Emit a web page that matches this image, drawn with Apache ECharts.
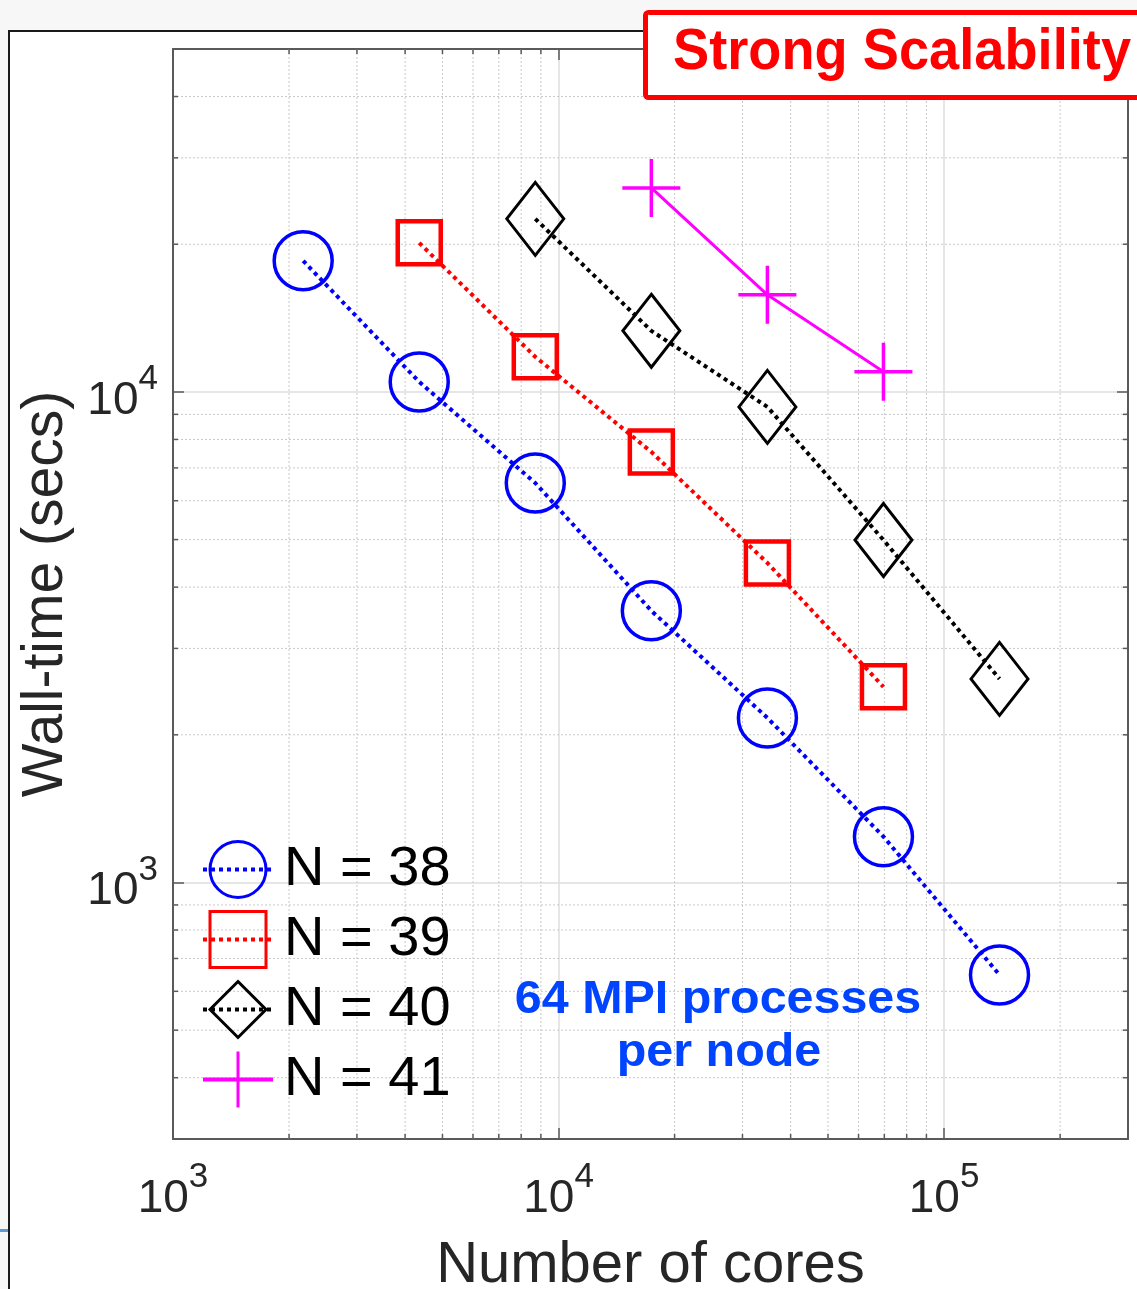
<!DOCTYPE html>
<html><head><meta charset="utf-8">
<script src="https://cdn.jsdelivr.net/npm/echarts@6/dist/echarts.min.js"></script>
<style>html,body{margin:0;padding:0;background:#f7f7f7;} #c{width:1137px;height:1289px;}</style>
</head><body><div id="c"></div>
<script>
// ---------------- data ----------------
const seriesNames = ['N = 38', 'N = 39', 'N = 40', 'N = 41'];
const cores38 = [2176, 4352, 8704, 17408, 34816, 69632, 139264];
const time38  = [18500, 10480, 6520, 3580, 2165, 1240, 648];
const cores39 = [4352, 8704, 17408, 34816, 69632];
const time39  = [20130, 11790, 7545, 4480, 2505];
const cores40 = [8704, 17408, 34816, 69632, 139264];
const time40  = [22530, 13320, 9320, 4990, 2600];
const cores41 = [17408, 34816, 69632];
const time41  = [26050, 15770, 10990];
const xTickExponents = [3, 4, 5];
const yTickExponents = [3, 4];
const xMinorTicks = [2000, 3000, 4000, 5000, 6000, 7000, 8000, 9000,
                     20000, 30000, 40000, 50000, 60000, 70000, 80000, 90000, 200000];
const yMinorTicks = [400, 500, 600, 700, 800, 900,
                     2000, 3000, 4000, 5000, 6000, 7000, 8000, 9000,
                     20000, 30000, 40000];

// ---------------- styles ----------------
const FONT = '"Liberation Sans", Arial, Helvetica, sans-serif';
const axisColor = '#5a5a5a';
const labelColor = '#262626';
const minorGridColor = '#c9c9c9';
const majorGridColor = '#dedede';

function zip(a, b) { return a.map((v, i) => [v, b[i]]); }
function powLabel(exps) {
  return function (v) {
    const l = Math.log10(v);
    const e = Math.round(l);
    if (Math.abs(l - e) > 1e-6 || exps.indexOf(e) < 0) return '';
    return '{b|10}{s|' + e + '}';
  };
}
const rich = {
  b: {fontSize: 46, lineHeight: 46, fontFamily: FONT, color: labelColor, verticalAlign: 'bottom'},
  s: {fontSize: 35, lineHeight: 35, fontFamily: FONT, color: labelColor, verticalAlign: 'bottom', padding: [0, 0, 27, 0]}
};

function minorXRender(params, api) {
  const cs = params.coordSys;
  const px = api.coord([api.value(0), api.value(1)])[0];
  const top = cs.y, bot = cs.y + cs.height;
  return {type: 'group', children: [
    {type: 'line', shape: {x1: px, y1: top, x2: px, y2: bot}, style: {stroke: minorGridColor, lineWidth: 1, lineDash: [2, 2]}},
    {type: 'line', shape: {x1: px, y1: bot, x2: px, y2: bot - 5}, style: {stroke: axisColor, lineWidth: 1.5}},
    {type: 'line', shape: {x1: px, y1: top, x2: px, y2: top + 5}, style: {stroke: axisColor, lineWidth: 1.5}}
  ]};
}
function minorYRender(params, api) {
  const cs = params.coordSys;
  const py = api.coord([api.value(0), api.value(1)])[1];
  const left = cs.x, right = cs.x + cs.width;
  return {type: 'group', children: [
    {type: 'line', shape: {x1: left, y1: py, x2: right, y2: py}, style: {stroke: minorGridColor, lineWidth: 1, lineDash: [2, 2]}},
    {type: 'line', shape: {x1: left, y1: py, x2: left + 5, y2: py}, style: {stroke: axisColor, lineWidth: 1.5}},
    {type: 'line', shape: {x1: right, y1: py, x2: right - 5, y2: py}, style: {stroke: axisColor, lineWidth: 1.5}}
  ]};
}

function mainAxis(kind) {
  const isX = kind === 'x';
  return {
    type: 'log', logBase: 10, gridIndex: 0,
    min: isX ? 1000 : 300, max: isX ? 300000 : 50000,
    position: isX ? 'bottom' : 'left',
    axisLine: {show: true, onZero: false, lineStyle: {color: axisColor, width: 2}},
    axisTick: {show: true, inside: true, length: 11, lineStyle: {color: axisColor, width: 1.5}},
    axisLabel: {show: true, margin: isX ? 37 : 15, padding: isX ? 0 : [18, 0, 0, 0],
                formatter: powLabel(isX ? xTickExponents : yTickExponents), rich: rich, hideOverlap: false},
    splitLine: {show: true, lineStyle: {color: majorGridColor, width: 1.5}},
    minorTick: {show: false}, minorSplitLine: {show: false},
    name: isX ? 'Number of cores' : 'Wall-time (secs)',
    nameLocation: 'middle', nameGap: isX ? 98 : 98,
    nameTextStyle: {fontSize: isX ? 58 : 57, fontFamily: FONT, color: labelColor}
  };
}
function mirrorAxis(kind) {
  const isX = kind === 'x';
  return {
    type: 'log', logBase: 10, gridIndex: 0,
    min: isX ? 1000 : 300, max: isX ? 300000 : 50000,
    position: isX ? 'top' : 'right',
    axisLine: {show: true, onZero: false, lineStyle: {color: axisColor, width: 2}},
    axisTick: {show: true, inside: true, length: 11, lineStyle: {color: axisColor, width: 1.5}},
    axisLabel: {show: false}, splitLine: {show: false}
  };
}

function lineSeries(name, xs, ys, color, symbol, size, bw, lineType) {
  return {
    name: name, type: 'line', xAxisIndex: 0, yAxisIndex: 0,
    data: zip(xs, ys), symbol: symbol, symbolSize: size, showSymbol: true,
    itemStyle: {color: 'rgba(0,0,0,0)', borderColor: color, borderWidth: bw},
    lineStyle: {color: color, width: lineType === 'solid' ? 3 : 4, type: lineType === 'solid' ? 'solid' : [4, 4], cap: 'butt'},
    z: 3, silent: true, clip: false, emphasis: {disabled: true}
  };
}

const chart = echarts.init(document.getElementById('c'), null, {renderer: 'canvas'});
chart.setOption({
  animation: false,
  backgroundColor: '#f7f7f7',
  grid: {left: 173, top: 49, width: 955, height: 1090, containLabel: false, outerBoundsMode: 'none'},
  xAxis: [mainAxis('x'), mirrorAxis('x')],
  yAxis: [mainAxis('y'), mirrorAxis('y')],
  legend: {
    data: seriesNames, orient: 'vertical', left: 196, top: 835,
    itemWidth: 70, itemHeight: 70, itemGap: 11, selectedMode: false,
    itemStyle: {borderWidth: 3},
    lineStyle: {width: 4},
    textStyle: {fontSize: 56, lineHeight: 56, fontFamily: FONT, color: '#000', padding: [0, 0, 0, 6]}
  },
  series: [
    {type: 'custom', name: 'minorX', xAxisIndex: 0, yAxisIndex: 0, z: 1, silent: true, clip: false,
     data: xMinorTicks.map(v => [v, 1000]), encode: {x: 0, y: 1}, renderItem: minorXRender},
    {type: 'custom', name: 'minorY', xAxisIndex: 0, yAxisIndex: 0, z: 1, silent: true, clip: false,
     data: yMinorTicks.map(v => [10000, v]), encode: {x: 0, y: 1}, renderItem: minorYRender},
    lineSeries(seriesNames[0], cores38, time38, '#0000ff', 'circle', 58, 3.5, 'dotted'),
    lineSeries(seriesNames[1], cores39, time39, '#ff0000', 'rect', 43, 4.5, 'dotted'),
    lineSeries(seriesNames[2], cores40, time40, '#000000', 'diamond', [57, 73], 3, 'dotted'),
    lineSeries(seriesNames[3], cores41, time41, '#ff00ff', 'path://M0,-1L0,1M-1,0L1,0', 58, 3.5, 'solid')
  ],
  graphic: [
    {type: 'rect', z: -10, silent: true, shape: {x: 9, y: 31, width: 1200, height: 1300},
     style: {fill: '#ffffff', stroke: '#1a1a1a', lineWidth: 2}},
    {type: 'rect', z: -9, silent: true, shape: {x: 0, y: 1229, width: 8, height: 3}, style: {fill: '#5b9bd5'}},
    {type: 'rect', z: 100, silent: true, shape: {x: 645.5, y: 12.5, width: 600, height: 85, r: 3},
     style: {fill: '#ffffff', stroke: '#ff0000', lineWidth: 5}},
    {type: 'text', z: 101, silent: true, x: 673, y: 53, scaleX: 0.935,
     style: {text: 'Strong Scalability', font: 'bold 58px "Liberation Sans", Arial, sans-serif', fill: '#ff0000',
             textAlign: 'left', align: 'left', textVerticalAlign: 'middle', verticalAlign: 'middle'}},
    {type: 'text', z: 101, silent: true, x: 718, y: 1000, scaleX: 1.03,
     style: {text: '64 MPI processes', font: 'bold 47px "Liberation Sans", Arial, sans-serif', fill: '#0044ff',
             textAlign: 'center', align: 'center', textVerticalAlign: 'middle', verticalAlign: 'middle'}},
    {type: 'text', z: 101, silent: true, x: 719, y: 1053, scaleX: 1.03,
     style: {text: 'per node', font: 'bold 47px "Liberation Sans", Arial, sans-serif', fill: '#0044ff',
             textAlign: 'center', align: 'center', textVerticalAlign: 'middle', verticalAlign: 'middle'}}
  ]
});
</script>
</body></html>
